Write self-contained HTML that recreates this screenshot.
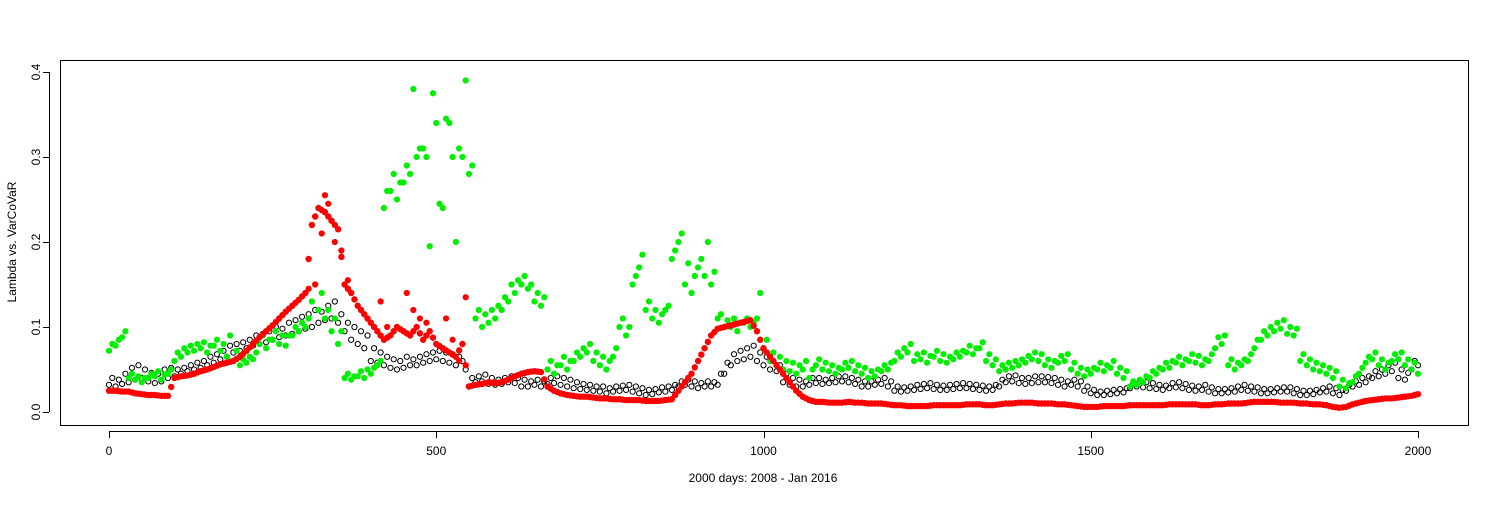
<!DOCTYPE html>
<html><head><meta charset="utf-8"><style>
html,body{margin:0;padding:0;background:#fff;}
svg text{font-family:"Liberation Sans",Arial,sans-serif;font-size:12px;fill:#000;}
</style></head><body>
<svg id="chart" width="1500" height="500" xmlns="http://www.w3.org/2000/svg">
<rect x="60.5" y="60.5" width="1408" height="365" fill="none" stroke="#000"/>
<g id="axes"></g>
<g id="black"></g><g id="green"></g><g id="red"></g>
<text x="763" y="482" text-anchor="middle">2000 days: 2008 - Jan 2016</text>
<text transform="translate(16,242) rotate(-90)" text-anchor="middle">Lambda vs. VarCoVaR</text>
</svg>
<script>
const xTicks=[0,500,1000,1500,2000];
const yTicks=[0,0.1,0.2,0.3,0.4];
const yTickLabels=["0.0","0.1","0.2","0.3","0.4"];
const redVals=[.025,.025,.024,.024,.022,.021,.020,.020,.019,.019,
.040,.042,.043,.045,.048,.050,.053,.056,.058,.060,
.065,.072,.080,.088,.095,.102,.110,.118,.125,.132,
.140,.220,.240,.235,.225,.215,.150,.140,.125,.115,
.105,.095,.085,.090,.100,.095,.090,.100,.085,.095,
.080,.075,.070,.065,.080,.030,.032,.033,.035,.034,
.035,.038,.042,.045,.047,.048,.047,.030,.025,.022,
.020,.019,.018,.018,.017,.016,.016,.015,.015,.014,
.014,.014,.013,.013,.013,.014,.015,.025,.035,.045,
.060,.075,.090,.098,.100,.102,.104,.106,.108,.095,
.075,.065,.055,.045,.035,.025,.018,.014,.012,.012,
.011,.011,.011,.012,.011,.011,.010,.010,.010,.009,
.008,.008,.007,.007,.007,.007,.008,.008,.008,.008,
.008,.009,.009,.009,.008,.008,.009,.010,.010,.011,
.011,.011,.010,.010,.010,.009,.009,.008,.007,.006,
.006,.006,.007,.007,.007,.007,.008,.008,.008,.008,
.008,.008,.009,.009,.009,.009,.009,.008,.008,.009,
.009,.010,.010,.010,.011,.012,.012,.012,.012,.011,
.011,.011,.010,.010,.009,.009,.008,.006,.005,.006,
.009,.011,.013,.014,.015,.016,.016,.017,.018,.019,.021];
const redOutDays=[305,315,325,330,335,345,355,365,415,425,455,465,475,485,515,525,535,545];
const redOutVals=[.145,.15,.21,.255,.245,.20,.19,.155,.13,.10,.14,.12,.11,.105,.11,.085,.06,.135];
const blackA=[.032,.030,.033,.035,.038,.040,.036,.034,.036,.040,
.042,.045,.048,.050,.052,.055,.058,.062,.065,.070,
.072,.075,.078,.080,.082,.085,.088,.090,.092,.095,
.098,.100,.105,.108,.110,.105,.095,.085,.080,.075,
.060,.058,.055,.052,.050,.052,.055,.055,.058,.060,
.062,.060,.058,.055,.060,.030,.035,.036,.033,.032,
.033,.035,.034,.030,.030,.032,.030,.033,.034,.032,
.030,.028,.027,.026,.025,.024,.022,.024,.025,.026,
.024,.022,.020,.021,.023,.024,.026,.030,.032,.030,
.028,.030,.030,.032,.045,.055,.060,.062,.065,.060,
.055,.050,.048,.035,.032,.030,.030,.032,.034,.033,
.034,.035,.036,.035,.033,.030,.030,.032,.033,.030,
.025,.024,.025,.026,.027,.028,.027,.026,.026,.027,
.028,.028,.027,.026,.025,.026,.030,.035,.036,.034,
.033,.034,.035,.035,.034,.032,.030,.032,.030,.025,
.022,.020,.020,.021,.022,.023,.028,.030,.029,.028,
.027,.026,.028,.029,.028,.026,.025,.026,.024,.022,
.022,.023,.024,.026,.025,.024,.022,.022,.023,.024,
.024,.022,.020,.020,.021,.023,.024,.022,.020,.025,
.030,.032,.035,.040,.042,.045,.048,.040,.038,.050,.055];
const blackB=[.040,.038,.045,.052,.055,.050,.046,.045,.050,.052,
.050,.052,.055,.058,.060,.065,.068,.072,.078,.080,
.082,.085,.090,.092,.095,.100,.098,.105,.108,.112,
.115,.120,.118,.125,.130,.115,.105,.100,.095,.090,
.075,.070,.065,.062,.060,.065,.062,.065,.068,.070,
.072,.070,.068,.065,.050,.040,.042,.044,.040,.038,
.040,.042,.040,.038,.036,.038,.036,.040,.042,.040,
.038,.035,.033,.032,.030,.030,.028,.030,.031,.032,
.030,.028,.026,.027,.029,.030,.032,.036,.038,.036,
.034,.036,.035,.045,.058,.068,.072,.075,.078,.070,
.065,.060,.055,.045,.040,.038,.036,.040,.040,.038,
.040,.042,.042,.040,.038,.036,.036,.038,.040,.036,
.030,.029,.030,.032,.033,.034,.032,.031,.032,.033,
.034,.033,.032,.031,.030,.032,.038,.042,.043,.040,
.040,.042,.042,.041,.040,.038,.036,.038,.036,.030,
.026,.024,.025,.026,.027,.028,.034,.036,.035,.034,
.032,.031,.034,.035,.033,.031,.030,.032,.029,.027,
.027,.028,.030,.032,.030,.029,.027,.027,.028,.029,
.029,.027,.025,.025,.026,.028,.030,.028,.026,.032,
.036,.040,.042,.048,.050,.055,.058,.050,.046,.060,.065];
const greenA=[.072,.078,.088,.040,.038,.035,.040,.042,.038,.045,
.060,.065,.070,.072,.075,.070,.078,.072,.065,.060,
.055,.058,.062,.080,.075,.085,.080,.078,.090,.095,
.100,.130,.120,.110,.095,.080,.040,.038,.042,.040,
.045,.055,.240,.260,.250,.270,.280,.300,.310,.195,
.340,.240,.340,.200,.300,.280,.110,.100,.105,.110,
.120,.130,.140,.150,.145,.130,.125,.050,.045,.055,
.050,.060,.065,.070,.060,.055,.050,.065,.100,.090,
.150,.170,.120,.110,.105,.120,.180,.200,.150,.140,
.170,.160,.150,.110,.100,.100,.095,.105,.100,.110,
.075,.060,.055,.050,.048,.045,.050,.040,.055,.050,
.048,.045,.050,.052,.048,.045,.040,.042,.048,.050,
.060,.065,.070,.060,.062,.058,.065,.060,.058,.062,
.065,.070,.068,.075,.060,.055,.048,.050,.052,.055,
.058,.062,.060,.055,.052,.058,.060,.050,.045,.042,
.045,.050,.048,.052,.045,.040,.030,.032,.035,.040,
.045,.050,.052,.058,.055,.060,.058,.055,.060,.075,
.080,.055,.050,.055,.060,.075,.085,.090,.095,.098,
.092,.090,.060,.055,.050,.048,.045,.040,.030,.028,
.035,.045,.058,.062,.055,.050,.060,.062,.055,.050,.045];
const greenB=[.080,.085,.095,.045,.042,.040,.045,.048,.044,.050,
.070,.075,.078,.080,.082,.078,.085,.080,.090,.072,
.062,.065,.070,.090,.085,.095,.090,.090,.100,.105,
.110,.150,.140,.120,.110,.095,.045,.042,.048,.050,
.052,.060,.260,.280,.270,.290,.380,.310,.300,.375,
.245,.345,.300,.310,.390,.290,.120,.115,.120,.125,
.135,.150,.155,.160,.150,.140,.135,.060,.055,.065,
.060,.070,.075,.080,.070,.065,.060,.075,.110,.100,
.160,.185,.130,.120,.115,.125,.190,.210,.175,.160,
.180,.200,.165,.115,.108,.110,.105,.110,.105,.140,
.085,.070,.065,.060,.058,.055,.060,.050,.062,.058,
.055,.052,.058,.060,.055,.052,.048,.050,.055,.058,
.070,.075,.080,.068,.070,.066,.072,.068,.065,.070,
.072,.078,.075,.082,.068,.062,.055,.058,.060,.062,
.066,.070,.068,.062,.060,.066,.068,.058,.052,.050,
.052,.058,.055,.060,.052,.048,.036,.038,.042,.048,
.052,.058,.060,.065,.062,.068,.066,.062,.068,.088,
.090,.062,.058,.062,.068,.085,.095,.100,.105,.108,
.100,.098,.068,.062,.058,.055,.052,.048,.038,.034,
.042,.052,.065,.070,.062,.058,.068,.070,.062,.058,.052];
const STEP=10;
const NS="http://www.w3.org/2000/svg";
function xs(d){return 109+d*(1418-109)/2000;}
function ys(v){return 412-v*850;}
function mk(tag,parent){const e=document.createElementNS(NS,tag);parent.appendChild(e);return e;}
const axes=document.getElementById('axes');
let l=mk('line',axes);


l.setAttribute('x1',xs(0));l.setAttribute('x2',xs(2000));l.setAttribute('y1',431.5);l.setAttribute('y2',431.5);l.setAttribute('stroke','#000');
xTicks.forEach(t=>{
 const k=mk('line',axes);
 
 
 k.setAttribute('x1',Math.round(xs(t))+.5);k.setAttribute('x2',Math.round(xs(t))+.5);k.setAttribute('y1',431);k.setAttribute('y2',438);k.setAttribute('stroke','#000');
 const tx=mk('text',axes);
 
 
 tx.setAttribute('x',xs(t));tx.setAttribute('y',455);tx.setAttribute('text-anchor','middle');tx.textContent=t;
});
l=mk('line',axes);


l.setAttribute('x1',49.5);l.setAttribute('x2',49.5);l.setAttribute('y1',ys(0));l.setAttribute('y2',ys(0.4));l.setAttribute('stroke','#000');
yTicks.forEach((t,i)=>{
 const k=mk('line',axes);
 
 
 k.setAttribute('x1',43);k.setAttribute('x2',49);k.setAttribute('y1',Math.round(ys(t))+.5);k.setAttribute('y2',Math.round(ys(t))+.5);k.setAttribute('stroke','#000');
 const tx=mk('text',axes);
 
 
 tx.setAttribute('transform','translate(40,'+ys(t)+') rotate(-90)');tx.setAttribute('text-anchor','middle');tx.textContent=yTickLabels[i];
});
function pt(g,d,v,fill,stroke,r){
 const c=mk('circle',g);
 
 
 c.setAttribute('cx',xs(d));c.setAttribute('cy',ys(v));c.setAttribute('r',r);
 c.setAttribute('fill',fill);if(stroke){c.setAttribute('stroke',stroke);c.setAttribute('stroke-width',1);}
}
const gb=document.getElementById('black'),gg=document.getElementById('green'),gr=document.getElementById('red');
blackA.forEach((v,i)=>{pt(gb,i*STEP,v,'none','#000',2.6);});
blackB.forEach((v,i)=>{if(i*STEP+5<=2000)pt(gb,i*STEP+5,v,'none','#000',2.6);});
greenA.forEach((v,i)=>{pt(gg,i*STEP,v,'#00ee00',null,3.1);});
greenB.forEach((v,i)=>{if(i*STEP+5<=2000)pt(gg,i*STEP+5,v,'#00ee00',null,3.1);});
redVals.forEach((v,i)=>{pt(gr,i*STEP,v,'#ff0000',null,3.2);
 if(i+1<redVals.length)pt(gr,i*STEP+5,(v+redVals[i+1])/2,'#ff0000',null,3.2);});
redOutDays.forEach((d,i)=>{pt(gr,d,redOutVals[i],'#ff0000',null,3.1);});
</script>
</body></html>
